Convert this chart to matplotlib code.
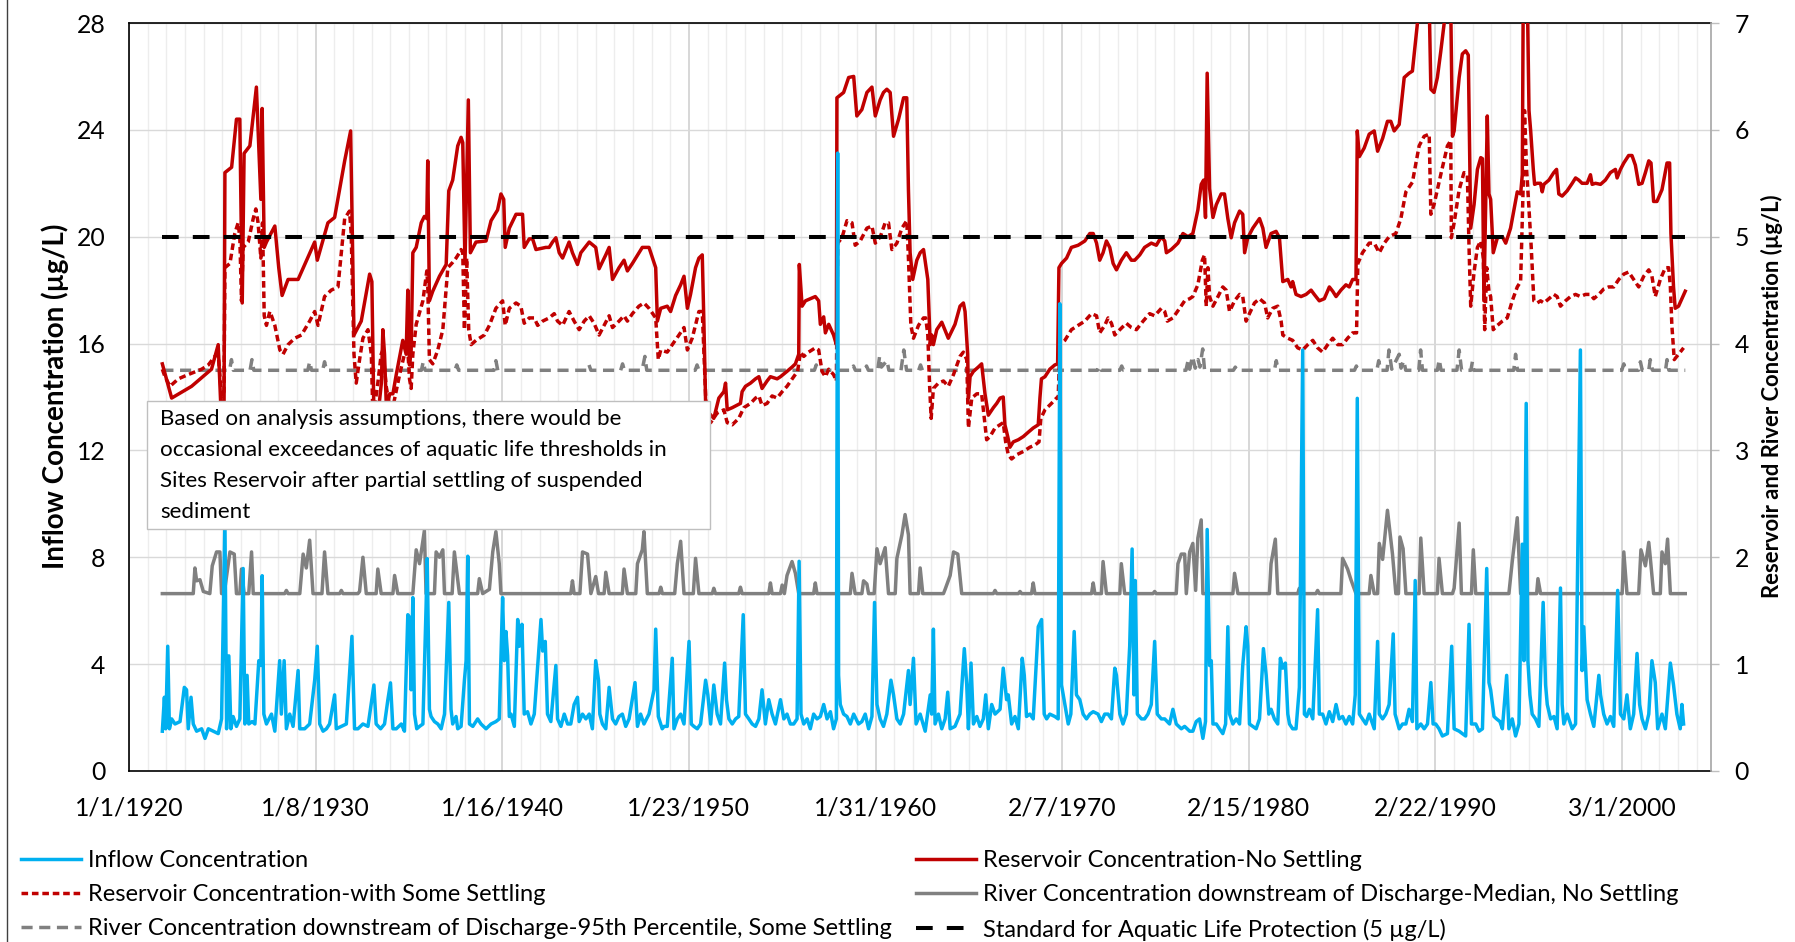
import datetime as dt
import numpy as np
import matplotlib
matplotlib.use("Agg")
import matplotlib.pyplot as plt
import matplotlib.dates as mdates
from matplotlib.lines import Line2D
from matplotlib.patches import Rectangle
from matplotlib.ticker import FixedLocator, FuncFormatter

plt.rcParams['font.family'] = ['Lato', 'DejaVu Sans']

# ---- data: (decimal year, value) ----
# inflow concentration, left axis (ug/L)
inflow = [
    (1921.79, 1.49), (1921.90, 2.76), (1921.97, 1.58), (1922.08, 4.67), (1922.17, 1.58), (1922.29, 1.95),
    (1922.47, 1.76), (1922.74, 1.85), (1922.97, 3.13), (1923.09, 3.04), (1923.18, 1.58), (1923.33, 2.76),
    (1923.45, 1.76), (1923.63, 1.49), (1923.90, 1.58), (1924.08, 1.22), (1924.26, 1.58), (1924.52, 1.49),
    (1924.79, 1.40), (1924.97, 1.95), (1925.15, 9.40), (1925.24, 1.58), (1925.36, 4.31), (1925.47, 1.58),
    (1925.59, 2.04), (1925.77, 1.67), (1925.95, 1.95), (1926.13, 7.58), (1926.22, 1.76), (1926.34, 3.58),
    (1926.43, 1.76), (1926.61, 1.85), (1926.76, 1.76), (1926.97, 4.13), (1927.08, 3.95), (1927.15, 7.31),
    (1927.24, 2.13), (1927.38, 1.76), (1927.65, 2.13), (1927.83, 1.49), (1928.09, 4.13), (1928.18, 2.13),
    (1928.33, 4.13), (1928.45, 1.58), (1928.63, 2.13), (1928.81, 1.67), (1929.08, 3.76), (1929.17, 1.58),
    (1929.43, 1.58), (1929.70, 1.76), (1929.97, 3.40), (1930.11, 4.67), (1930.24, 1.76), (1930.42, 1.49),
    (1930.60, 1.58), (1930.77, 1.76), (1931.04, 2.85), (1931.13, 1.58), (1931.40, 1.67), (1931.67, 1.76),
    (1931.97, 5.04), (1932.11, 1.58), (1932.29, 1.58), (1932.56, 1.76), (1932.83, 1.67), (1933.04, 2.67),
    (1933.15, 3.22), (1933.27, 1.76), (1933.51, 1.58), (1933.72, 1.76), (1933.90, 2.67), (1934.04, 3.30),
    (1934.17, 1.58), (1934.35, 1.58), (1934.62, 1.76), (1934.79, 1.49), (1934.97, 5.85), (1935.06, 5.76),
    (1935.15, 3.04), (1935.24, 6.49), (1935.33, 2.13), (1935.45, 1.58), (1935.60, 1.67), (1935.78, 1.76),
    (1935.95, 6.13), (1936.01, 7.95), (1936.13, 2.31), (1936.22, 2.04), (1936.40, 1.85), (1936.58, 1.76),
    (1936.76, 1.58), (1936.94, 2.13), (1937.17, 6.31), (1937.29, 2.31), (1937.38, 1.76), (1937.56, 2.04),
    (1937.65, 1.58), (1937.83, 1.67), (1938.01, 3.40), (1938.10, 4.13), (1938.19, 8.04), (1938.28, 1.76),
    (1938.46, 1.67), (1938.72, 1.95), (1938.90, 1.76), (1939.17, 1.58), (1939.44, 1.76), (1939.70, 1.85),
    (1939.88, 1.95), (1940.06, 6.49), (1940.15, 4.13), (1940.24, 5.22), (1940.33, 4.31), (1940.42, 2.04),
    (1940.51, 2.13), (1940.69, 1.67), (1940.87, 5.67), (1940.96, 4.67), (1941.10, 5.49), (1941.22, 2.13),
    (1941.40, 2.22), (1941.58, 1.76), (1941.76, 2.13), (1942.12, 5.67), (1942.21, 4.49), (1942.35, 4.85),
    (1942.47, 2.13), (1942.65, 1.85), (1942.92, 3.95), (1943.01, 1.95), (1943.19, 1.67), (1943.37, 2.13),
    (1943.55, 1.76), (1943.72, 1.76), (1943.90, 2.49), (1944.08, 2.76), (1944.17, 1.85), (1944.35, 2.13),
    (1944.53, 1.95), (1944.71, 2.13), (1944.88, 1.58), (1945.06, 4.13), (1945.21, 3.40), (1945.28, 2.13),
    (1945.42, 1.76), (1945.60, 1.58), (1945.78, 3.13), (1945.96, 1.95), (1946.13, 1.76), (1946.31, 2.04),
    (1946.49, 2.13), (1946.67, 1.67), (1946.85, 1.95), (1947.17, 3.31), (1947.30, 1.67), (1947.47, 2.13),
    (1947.65, 1.76), (1947.92, 2.13), (1948.19, 3.04), (1948.28, 5.31), (1948.42, 2.04), (1948.63, 1.58),
    (1948.73, 1.67), (1948.90, 1.67), (1949.17, 4.22), (1949.26, 1.58), (1949.44, 1.95), (1949.62, 2.13),
    (1949.80, 1.76), (1950.07, 4.85), (1950.19, 1.76), (1950.33, 1.67), (1950.51, 1.58), (1950.69, 1.76),
    (1950.96, 3.40), (1951.08, 2.85), (1951.23, 1.76), (1951.40, 3.22), (1951.58, 2.13), (1951.76, 1.76),
    (1951.98, 4.04), (1952.08, 2.67), (1952.21, 1.95), (1952.39, 1.76), (1952.57, 1.95), (1952.74, 2.04),
    (1952.98, 5.85), (1953.10, 2.13), (1953.28, 1.95), (1953.46, 1.76), (1953.64, 1.67), (1953.82, 1.95),
    (1953.99, 3.04), (1954.17, 1.76), (1954.35, 2.67), (1954.53, 2.13), (1954.71, 1.76), (1954.98, 2.67),
    (1955.16, 1.95), (1955.33, 2.13), (1955.51, 1.76), (1955.69, 1.76), (1955.87, 1.95), (1955.98, 7.85),
    (1956.08, 2.13), (1956.23, 1.76), (1956.41, 1.95), (1956.58, 1.58), (1956.76, 2.13), (1956.94, 1.95),
    (1957.12, 2.04), (1957.30, 2.49), (1957.48, 1.95), (1957.66, 2.22), (1957.83, 1.58), (1957.98, 1.95),
    (1958.05, 23.13), (1958.10, 3.58), (1958.19, 2.49), (1958.37, 2.13), (1958.55, 2.04), (1958.73, 1.76),
    (1958.91, 2.13), (1959.17, 1.76), (1959.35, 1.85), (1959.53, 2.13), (1959.71, 1.58), (1959.89, 2.04),
    (1960.03, 6.31), (1960.16, 2.49), (1960.33, 1.95), (1960.51, 1.67), (1960.69, 2.13), (1960.91, 3.40),
    (1961.05, 2.85), (1961.23, 1.95), (1961.41, 1.76), (1961.59, 2.13), (1961.85, 3.76), (1961.94, 2.49),
    (1962.12, 4.22), (1962.26, 1.76), (1962.48, 2.13), (1962.75, 1.49), (1963.02, 2.85), (1963.10, 2.13),
    (1963.19, 5.31), (1963.28, 1.76), (1963.46, 2.13), (1963.64, 1.58), (1963.82, 1.95), (1963.96, 2.95),
    (1964.09, 1.58), (1964.35, 1.67), (1964.62, 2.13), (1964.85, 4.58), (1964.98, 3.22), (1965.07, 1.58),
    (1965.21, 4.04), (1965.34, 1.76), (1965.52, 2.04), (1965.69, 1.67), (1965.87, 1.95), (1966.00, 2.85),
    (1966.14, 1.58), (1966.32, 2.49), (1966.50, 2.13), (1966.77, 2.31), (1966.94, 3.85), (1967.12, 2.67),
    (1967.21, 2.85), (1967.39, 1.76), (1967.57, 2.04), (1967.75, 1.58), (1967.96, 4.22), (1968.07, 3.58),
    (1968.19, 2.04), (1968.37, 2.13), (1968.55, 1.95), (1968.82, 5.40), (1969.00, 5.67), (1969.14, 2.13),
    (1969.27, 1.95), (1969.44, 2.13), (1969.71, 2.04), (1969.89, 1.95), (1969.98, 17.49), (1970.07, 3.22),
    (1970.25, 2.49), (1970.43, 1.76), (1970.57, 2.13), (1970.75, 5.22), (1970.87, 2.85), (1971.05, 2.67),
    (1971.23, 2.13), (1971.41, 1.95), (1971.59, 2.13), (1971.77, 2.22), (1972.03, 2.13), (1972.21, 1.85),
    (1972.39, 2.13), (1972.57, 2.13), (1972.75, 1.95), (1972.93, 3.85), (1973.02, 3.58), (1973.20, 2.13),
    (1973.37, 1.76), (1973.55, 2.13), (1973.73, 4.67), (1973.86, 8.31), (1973.96, 2.85), (1974.03, 7.13),
    (1974.14, 2.13), (1974.36, 1.95), (1974.53, 1.95), (1974.71, 2.13), (1974.89, 2.49), (1975.07, 4.85),
    (1975.21, 2.13), (1975.43, 1.95), (1975.61, 1.95), (1975.87, 1.76), (1976.05, 2.31), (1976.23, 1.76),
    (1976.50, 1.58), (1976.68, 1.67), (1976.95, 1.49), (1977.12, 1.49), (1977.30, 1.85), (1977.48, 1.95),
    (1977.66, 1.22), (1977.80, 1.85), (1977.89, 9.04), (1978.02, 3.95), (1978.11, 4.13), (1978.20, 1.76),
    (1978.38, 1.76), (1978.55, 1.58), (1978.73, 1.40), (1978.88, 1.76), (1979.00, 5.40), (1979.09, 2.13),
    (1979.27, 1.76), (1979.45, 1.95), (1979.63, 1.76), (1979.80, 3.95), (1979.98, 5.40), (1980.07, 4.67),
    (1980.16, 1.76), (1980.34, 1.67), (1980.52, 1.58), (1980.70, 1.95), (1980.91, 4.58), (1981.06, 3.58),
    (1981.20, 2.13), (1981.32, 2.31), (1981.50, 1.95), (1981.68, 1.76), (1981.82, 4.22), (1981.95, 3.85),
    (1982.09, 4.04), (1982.22, 2.13), (1982.31, 1.76), (1982.48, 1.58), (1982.66, 1.58), (1982.84, 3.13),
    (1983.02, 15.76), (1983.11, 2.13), (1983.23, 2.04), (1983.38, 2.31), (1983.56, 1.95), (1983.82, 6.04),
    (1983.91, 2.13), (1984.09, 2.13), (1984.27, 1.76), (1984.45, 2.22), (1984.63, 1.85), (1984.81, 2.49),
    (1984.98, 1.95), (1985.16, 2.04), (1985.34, 1.76), (1985.52, 2.04), (1985.70, 1.76), (1985.84, 2.85),
    (1985.95, 13.95), (1986.06, 2.13), (1986.23, 1.95), (1986.41, 1.76), (1986.59, 2.13), (1986.86, 1.58),
    (1987.04, 4.85), (1987.13, 2.13), (1987.31, 1.95), (1987.48, 2.13), (1987.66, 2.49), (1987.88, 5.13),
    (1987.98, 2.13), (1988.20, 1.58), (1988.38, 1.76), (1988.56, 1.76), (1988.73, 2.31), (1988.91, 1.85),
    (1989.06, 7.13), (1989.15, 1.58), (1989.36, 1.76), (1989.54, 1.58), (1989.72, 1.76), (1989.90, 3.31),
    (1990.02, 1.76), (1990.16, 1.76), (1990.34, 1.58), (1990.52, 1.31), (1990.79, 1.40), (1991.02, 4.67),
    (1991.15, 1.58), (1991.42, 1.49), (1991.59, 1.40), (1991.77, 1.31), (1991.95, 5.49), (1992.08, 1.76),
    (1992.31, 1.76), (1992.49, 1.49), (1992.67, 1.58), (1992.90, 7.58), (1993.02, 3.31), (1993.11, 3.04),
    (1993.29, 2.04), (1993.43, 1.95), (1993.61, 1.85), (1993.74, 1.58), (1993.97, 3.58), (1994.09, 1.58),
    (1994.27, 1.95), (1994.45, 1.31), (1994.63, 1.76), (1994.81, 8.49), (1994.90, 4.13), (1995.02, 13.76),
    (1995.11, 4.13), (1995.22, 2.85), (1995.34, 2.13), (1995.52, 1.95), (1995.70, 1.67), (1995.93, 6.31),
    (1996.06, 3.22), (1996.15, 2.49), (1996.33, 1.95), (1996.51, 2.04), (1996.68, 1.58), (1996.86, 6.85),
    (1996.95, 2.49), (1997.04, 1.76), (1997.22, 2.13), (1997.49, 1.58), (1997.67, 1.76), (1997.93, 15.76),
    (1998.02, 3.76), (1998.11, 5.40), (1998.29, 2.67), (1998.47, 2.13), (1998.65, 1.67), (1998.92, 3.58),
    (1999.01, 2.85), (1999.18, 2.13), (1999.36, 1.76), (1999.54, 2.04), (1999.72, 1.67), (1999.93, 6.76),
    (2000.08, 2.13), (2000.26, 1.95), (2000.43, 2.85), (2000.61, 1.58), (2000.79, 2.13), (2000.97, 4.40),
    (2001.11, 2.49), (2001.24, 1.95), (2001.42, 1.58), (2001.60, 2.13), (2001.77, 4.13), (2001.95, 3.31),
    (2002.08, 1.58), (2002.31, 2.13), (2002.49, 1.58), (2002.76, 4.04), (2002.93, 3.22), (2003.11, 2.13),
    (2003.29, 1.58), (2003.38, 2.49), (2003.47, 1.76),
]

# reservoir concentration, no settling, right axis (ug/L)
res_no_settle = [
    (1921.79, 3.81), (1922.29, 3.49), (1923.36, 3.60), (1924.43, 3.76), (1924.79, 3.99), (1924.97, 3.25),
    (1925.10, 3.25), (1925.15, 5.60), (1925.51, 5.65), (1925.77, 6.10), (1925.95, 6.10), (1926.08, 4.38),
    (1926.18, 5.78), (1926.49, 5.85), (1926.84, 6.40), (1927.08, 5.35), (1927.15, 6.20), (1927.26, 4.90),
    (1927.38, 4.95), (1927.83, 5.10), (1928.04, 4.71), (1928.22, 4.45), (1928.54, 4.60), (1929.08, 4.60),
    (1929.97, 4.95), (1930.11, 4.78), (1930.68, 5.13), (1931.04, 5.18), (1931.58, 5.71), (1931.90, 5.99),
    (1932.08, 4.08), (1932.47, 4.21), (1932.92, 4.65), (1933.04, 4.58), (1933.15, 3.33), (1933.40, 3.38),
    (1933.55, 3.63), (1933.63, 4.13), (1933.72, 3.90), (1933.82, 3.40), (1934.00, 3.53), (1934.17, 3.53),
    (1934.35, 3.71), (1934.70, 4.03), (1934.88, 3.90), (1934.97, 4.50), (1935.06, 3.80), (1935.15, 3.94),
    (1935.24, 4.85), (1935.42, 4.90), (1935.69, 5.13), (1935.86, 5.19), (1935.99, 5.17), (1936.04, 5.71),
    (1936.13, 4.40), (1936.31, 4.49), (1936.67, 4.63), (1937.03, 4.74), (1937.17, 5.43), (1937.38, 5.53),
    (1937.65, 5.85), (1937.83, 5.93), (1937.92, 5.88), (1938.04, 4.75), (1938.22, 6.28), (1938.33, 4.85),
    (1938.63, 4.95), (1939.17, 4.96), (1939.44, 5.15), (1939.79, 5.25), (1939.97, 5.40), (1940.12, 5.35),
    (1940.20, 4.90), (1940.42, 5.08), (1940.78, 5.21), (1941.13, 5.21), (1941.22, 4.90), (1941.49, 4.98),
    (1941.67, 4.98), (1941.85, 4.88), (1942.38, 4.90), (1942.56, 4.90), (1942.74, 4.95), (1942.92, 4.99),
    (1943.10, 4.85), (1943.28, 4.80), (1943.63, 4.95), (1943.81, 4.85), (1944.08, 4.74), (1944.26, 4.85),
    (1944.71, 4.95), (1945.06, 4.90), (1945.24, 4.70), (1945.60, 4.83), (1945.78, 4.90), (1945.96, 4.60),
    (1946.31, 4.71), (1946.58, 4.78), (1946.76, 4.68), (1947.03, 4.75), (1947.56, 4.90), (1947.92, 4.90),
    (1948.28, 4.71), (1948.37, 4.21), (1948.55, 4.33), (1948.90, 4.35), (1949.08, 4.30), (1949.35, 4.45),
    (1949.62, 4.55), (1949.80, 4.63), (1949.98, 4.33), (1950.15, 4.46), (1950.42, 4.71), (1950.60, 4.80),
    (1950.78, 4.83), (1950.87, 4.18), (1950.96, 3.44), (1951.14, 3.35), (1951.40, 3.30), (1951.67, 3.49),
    (1951.94, 3.55), (1952.03, 3.63), (1952.12, 3.38), (1952.39, 3.40), (1952.83, 3.44), (1952.92, 3.55),
    (1953.10, 3.60), (1953.37, 3.63), (1953.64, 3.67), (1953.82, 3.69), (1953.99, 3.58), (1954.26, 3.65),
    (1954.44, 3.69), (1954.80, 3.67), (1954.98, 3.69), (1955.33, 3.74), (1955.60, 3.78), (1955.78, 3.81),
    (1955.96, 3.90), (1955.99, 4.74), (1956.14, 4.35), (1956.32, 4.40), (1956.58, 4.42), (1956.85, 4.44),
    (1957.03, 4.40), (1957.12, 4.18), (1957.30, 4.25), (1957.39, 4.10), (1957.57, 4.18), (1957.83, 4.08),
    (1957.98, 3.99), (1958.01, 6.30), (1958.37, 6.35), (1958.64, 6.49), (1958.91, 6.50), (1959.08, 6.13),
    (1959.35, 6.19), (1959.62, 6.35), (1959.89, 6.40), (1960.07, 6.13), (1960.33, 6.28), (1960.51, 6.35),
    (1960.69, 6.38), (1960.87, 6.35), (1961.05, 5.94), (1961.32, 6.10), (1961.59, 6.30), (1961.76, 6.30),
    (1961.85, 5.44), (1961.94, 4.85), (1962.08, 4.60), (1962.30, 4.78), (1962.48, 4.85), (1962.66, 4.88),
    (1962.89, 4.60), (1963.02, 3.99), (1963.10, 4.08), (1963.19, 3.99), (1963.37, 4.13), (1963.64, 4.20),
    (1963.99, 4.05), (1964.35, 4.18), (1964.62, 4.35), (1964.80, 4.38), (1964.89, 4.30), (1965.03, 3.90),
    (1965.07, 3.49), (1965.16, 3.69), (1965.34, 3.74), (1965.60, 3.78), (1965.78, 3.81), (1965.96, 3.53),
    (1966.14, 3.33), (1966.41, 3.40), (1966.59, 3.44), (1966.77, 3.49), (1966.94, 3.50), (1967.03, 3.24),
    (1967.18, 3.13), (1967.30, 3.03), (1967.48, 3.08), (1967.75, 3.10), (1968.02, 3.13), (1968.28, 3.17),
    (1968.55, 3.21), (1968.82, 3.24), (1968.91, 3.49), (1968.99, 3.67), (1969.18, 3.69), (1969.44, 3.76),
    (1969.71, 3.80), (1969.86, 3.81), (1969.93, 4.71), (1970.07, 4.75), (1970.34, 4.80), (1970.60, 4.90),
    (1970.96, 4.92), (1971.32, 4.96), (1971.59, 5.03), (1971.77, 5.03), (1971.95, 4.94), (1972.12, 4.78),
    (1972.30, 4.85), (1972.48, 4.96), (1972.66, 4.90), (1972.84, 4.75), (1973.02, 4.69), (1973.28, 4.78),
    (1973.55, 4.85), (1973.82, 4.78), (1974.00, 4.78), (1974.27, 4.83), (1974.53, 4.90), (1974.89, 4.94),
    (1975.16, 4.92), (1975.43, 5.00), (1975.61, 4.96), (1975.70, 4.85), (1975.96, 4.88), (1976.32, 4.94),
    (1976.59, 5.03), (1976.86, 5.00), (1977.12, 5.03), (1977.39, 5.25), (1977.57, 5.49), (1977.70, 5.53),
    (1977.80, 5.18), (1977.89, 6.53), (1978.02, 5.45), (1978.20, 5.18), (1978.38, 5.30), (1978.64, 5.40),
    (1978.82, 5.40), (1979.00, 5.17), (1979.18, 4.99), (1979.36, 5.13), (1979.63, 5.24), (1979.80, 5.21),
    (1979.90, 4.85), (1980.07, 4.99), (1980.34, 5.08), (1980.70, 5.17), (1980.88, 5.08), (1981.05, 4.90),
    (1981.32, 5.03), (1981.59, 5.05), (1981.77, 4.99), (1981.95, 4.58), (1982.22, 4.60), (1982.39, 4.53),
    (1982.48, 4.58), (1982.66, 4.46), (1982.93, 4.44), (1983.20, 4.46), (1983.47, 4.50), (1983.64, 4.46),
    (1983.91, 4.40), (1984.18, 4.42), (1984.45, 4.53), (1984.63, 4.49), (1984.81, 4.44), (1985.07, 4.50),
    (1985.34, 4.55), (1985.52, 4.53), (1985.70, 4.60), (1985.88, 4.60), (1985.95, 5.99), (1986.06, 5.75),
    (1986.32, 5.83), (1986.59, 5.96), (1986.86, 5.99), (1987.04, 5.80), (1987.31, 5.92), (1987.57, 6.08),
    (1987.75, 6.08), (1987.93, 5.99), (1988.20, 6.05), (1988.47, 6.49), (1988.73, 6.53), (1988.91, 6.55),
    (1989.09, 6.85), (1989.27, 7.15), (1989.54, 7.25), (1989.81, 7.20), (1989.90, 6.38), (1990.07, 6.35),
    (1990.25, 6.49), (1990.43, 6.73), (1990.61, 6.99), (1990.79, 7.25), (1990.97, 7.13), (1991.06, 5.94),
    (1991.15, 5.99), (1991.42, 6.49), (1991.59, 6.71), (1991.77, 6.74), (1991.91, 6.70), (1992.04, 5.08),
    (1992.22, 5.30), (1992.40, 5.63), (1992.58, 5.74), (1992.67, 5.73), (1992.75, 4.40), (1992.84, 5.25),
    (1992.93, 6.13), (1993.02, 5.40), (1993.11, 5.35), (1993.25, 4.85), (1993.47, 4.99), (1993.74, 5.00),
    (1993.92, 4.94), (1994.18, 5.08), (1994.36, 5.25), (1994.54, 5.42), (1994.72, 5.40), (1994.81, 5.58),
    (1994.86, 7.25), (1995.08, 7.25), (1995.17, 6.18), (1995.26, 5.99), (1995.40, 5.63), (1995.47, 5.49),
    (1995.61, 5.50), (1995.79, 5.50), (1995.88, 5.42), (1995.97, 5.49), (1996.24, 5.53), (1996.50, 5.60),
    (1996.65, 5.63), (1996.77, 5.40), (1996.95, 5.38), (1997.22, 5.43), (1997.49, 5.50), (1997.67, 5.55),
    (1997.84, 5.53), (1998.02, 5.50), (1998.29, 5.50), (1998.47, 5.58), (1998.56, 5.49), (1998.74, 5.50),
    (1999.01, 5.49), (1999.27, 5.53), (1999.54, 5.60), (1999.81, 5.63), (1999.90, 5.55), (2000.08, 5.63),
    (2000.26, 5.69), (2000.52, 5.76), (2000.70, 5.76), (2000.88, 5.67), (2001.06, 5.49), (2001.24, 5.50),
    (2001.42, 5.60), (2001.60, 5.71), (2001.72, 5.69), (2001.86, 5.33), (2002.04, 5.33), (2002.31, 5.44),
    (2002.58, 5.69), (2002.72, 5.69), (2002.79, 5.03), (2002.93, 4.53), (2003.02, 4.33), (2003.20, 4.35),
    (2003.38, 4.42), (2003.56, 4.49),
]

# reservoir concentration with some settling, right axis
res_some_settle = [
    (1921.79, 3.76), (1921.93, 3.69), (1922.20, 3.60), (1922.65, 3.67), (1923.18, 3.71), (1923.90, 3.76),
    (1924.26, 3.80), (1924.61, 3.88), (1924.79, 3.90), (1924.97, 3.50), (1925.10, 3.55), (1925.15, 4.71),
    (1925.42, 4.75), (1925.68, 5.03), (1925.86, 5.13), (1925.95, 4.99), (1926.04, 4.40), (1926.13, 4.90),
    (1926.40, 4.95), (1926.67, 5.17), (1926.81, 5.26), (1926.93, 5.13), (1927.08, 4.80), (1927.17, 5.13),
    (1927.26, 4.26), (1927.38, 4.17), (1927.56, 4.30), (1927.65, 4.26), (1927.83, 4.17), (1928.10, 3.94),
    (1928.27, 3.90), (1928.54, 3.99), (1928.90, 4.05), (1929.26, 4.08), (1929.70, 4.21), (1929.97, 4.30),
    (1930.15, 4.17), (1930.50, 4.44), (1930.86, 4.50), (1931.22, 4.53), (1931.58, 5.17), (1931.84, 5.24),
    (1931.93, 5.03), (1932.08, 3.90), (1932.20, 3.63), (1932.38, 3.85), (1932.56, 4.05), (1932.83, 4.13),
    (1933.01, 3.90), (1933.10, 3.30), (1933.36, 3.63), (1933.54, 3.90), (1933.63, 3.94), (1933.81, 3.60),
    (1934.08, 3.33), (1934.53, 3.71), (1934.79, 3.90), (1934.97, 3.94), (1935.06, 3.67), (1935.15, 3.58),
    (1935.24, 3.90), (1935.42, 4.18), (1935.78, 4.40), (1935.99, 4.68), (1936.04, 4.55), (1936.13, 3.85),
    (1936.31, 3.81), (1936.58, 3.94), (1936.85, 4.13), (1937.12, 4.71), (1937.38, 4.76), (1937.56, 4.80),
    (1937.74, 4.85), (1937.83, 4.88), (1937.92, 4.85), (1938.01, 4.13), (1938.13, 4.80), (1938.24, 4.13),
    (1938.37, 3.99), (1938.63, 4.03), (1939.08, 4.08), (1939.35, 4.17), (1939.70, 4.33), (1940.06, 4.40),
    (1940.20, 4.17), (1940.42, 4.33), (1940.78, 4.38), (1941.04, 4.35), (1941.22, 4.19), (1941.49, 4.24),
    (1941.76, 4.24), (1941.94, 4.17), (1942.21, 4.21), (1942.56, 4.24), (1942.83, 4.28), (1943.01, 4.21),
    (1943.28, 4.17), (1943.63, 4.30), (1943.90, 4.21), (1944.17, 4.13), (1944.44, 4.21), (1944.71, 4.26),
    (1944.97, 4.19), (1945.24, 4.08), (1945.51, 4.17), (1945.78, 4.26), (1945.96, 4.15), (1946.31, 4.21),
    (1946.58, 4.26), (1946.76, 4.21), (1947.03, 4.28), (1947.38, 4.35), (1947.65, 4.38), (1947.92, 4.33),
    (1948.28, 4.24), (1948.42, 3.85), (1948.55, 3.94), (1948.90, 3.92), (1949.17, 3.99), (1949.53, 4.08),
    (1949.80, 4.15), (1949.98, 3.94), (1950.24, 4.05), (1950.60, 4.30), (1950.78, 4.30), (1950.87, 3.90),
    (1951.01, 3.30), (1951.23, 3.26), (1951.58, 3.35), (1951.94, 3.38), (1952.12, 3.26), (1952.39, 3.24),
    (1952.74, 3.30), (1953.01, 3.40), (1953.37, 3.44), (1953.64, 3.49), (1953.82, 3.51), (1953.99, 3.42),
    (1954.26, 3.44), (1954.53, 3.51), (1954.80, 3.49), (1955.07, 3.55), (1955.33, 3.60), (1955.69, 3.69),
    (1955.90, 3.74), (1956.05, 3.92), (1956.23, 3.88), (1956.49, 3.92), (1956.85, 3.96), (1957.03, 3.94),
    (1957.21, 3.74), (1957.39, 3.69), (1957.57, 3.76), (1957.83, 3.71), (1957.98, 3.65), (1958.05, 4.94),
    (1958.28, 4.99), (1958.55, 5.15), (1958.82, 5.13), (1958.99, 4.92), (1959.26, 4.96), (1959.62, 5.08),
    (1959.89, 5.10), (1960.07, 4.94), (1960.34, 5.00), (1960.60, 5.13), (1960.78, 5.13), (1960.96, 4.88),
    (1961.23, 4.94), (1961.50, 5.08), (1961.76, 5.15), (1961.85, 4.80), (1961.98, 4.17), (1962.12, 4.05),
    (1962.39, 4.17), (1962.66, 4.24), (1962.78, 4.24), (1962.89, 4.08), (1962.98, 3.63), (1963.07, 3.30),
    (1963.19, 3.58), (1963.46, 3.63), (1963.73, 3.65), (1963.99, 3.60), (1964.27, 3.71), (1964.62, 3.88),
    (1964.80, 3.92), (1964.98, 3.85), (1965.07, 3.21), (1965.25, 3.49), (1965.52, 3.53), (1965.78, 3.53),
    (1966.05, 3.10), (1966.23, 3.13), (1966.50, 3.21), (1966.77, 3.24), (1966.94, 3.26), (1967.07, 3.08),
    (1967.21, 2.96), (1967.39, 2.92), (1967.66, 2.96), (1968.02, 2.99), (1968.37, 3.03), (1968.64, 3.05),
    (1968.86, 3.08), (1968.96, 3.30), (1969.18, 3.38), (1969.53, 3.44), (1969.80, 3.49), (1969.89, 3.49),
    (1969.98, 3.99), (1970.25, 4.03), (1970.60, 4.13), (1970.96, 4.17), (1971.32, 4.21), (1971.68, 4.28),
    (1971.95, 4.26), (1972.12, 4.10), (1972.39, 4.17), (1972.57, 4.24), (1972.75, 4.19), (1972.93, 4.08),
    (1973.20, 4.13), (1973.55, 4.19), (1973.82, 4.15), (1974.09, 4.13), (1974.45, 4.21), (1974.80, 4.28),
    (1975.07, 4.26), (1975.43, 4.33), (1975.61, 4.30), (1975.75, 4.21), (1976.05, 4.24), (1976.41, 4.33),
    (1976.68, 4.40), (1976.95, 4.42), (1977.12, 4.44), (1977.39, 4.55), (1977.63, 4.78), (1977.75, 4.83),
    (1977.84, 4.35), (1977.93, 4.71), (1978.02, 4.44), (1978.20, 4.35), (1978.47, 4.44), (1978.73, 4.53),
    (1978.91, 4.50), (1979.09, 4.30), (1979.36, 4.40), (1979.63, 4.46), (1979.80, 4.44), (1979.98, 4.21),
    (1980.16, 4.28), (1980.43, 4.38), (1980.70, 4.42), (1980.97, 4.38), (1981.14, 4.24), (1981.41, 4.33),
    (1981.68, 4.35), (1981.86, 4.21), (1981.95, 4.08), (1982.22, 4.05), (1982.48, 4.03), (1982.75, 3.96),
    (1983.02, 3.94), (1983.29, 3.99), (1983.56, 4.03), (1983.82, 3.96), (1984.09, 3.92), (1984.36, 3.99),
    (1984.63, 4.05), (1984.90, 3.99), (1985.16, 3.99), (1985.43, 4.05), (1985.70, 4.10), (1985.91, 4.10),
    (1985.98, 4.75), (1986.23, 4.85), (1986.59, 4.94), (1986.86, 4.94), (1987.13, 4.85), (1987.40, 4.94),
    (1987.66, 5.00), (1988.02, 5.03), (1988.29, 5.17), (1988.56, 5.42), (1988.91, 5.51), (1989.27, 5.85),
    (1989.54, 5.94), (1989.81, 5.96), (1989.90, 5.21), (1990.07, 5.30), (1990.43, 5.58), (1990.79, 5.85),
    (1990.97, 5.90), (1991.00, 4.99), (1991.15, 5.13), (1991.42, 5.44), (1991.68, 5.60), (1991.86, 5.58),
    (1991.95, 4.90), (1992.04, 4.35), (1992.22, 4.67), (1992.40, 4.90), (1992.58, 4.96), (1992.72, 4.80),
    (1992.79, 4.13), (1992.90, 4.71), (1993.02, 4.49), (1993.11, 4.44), (1993.25, 4.13), (1993.47, 4.17),
    (1993.74, 4.21), (1994.00, 4.24), (1994.27, 4.40), (1994.54, 4.53), (1994.72, 4.58), (1994.86, 5.49),
    (1994.93, 6.18), (1995.04, 5.63), (1995.17, 5.26), (1995.29, 4.90), (1995.43, 4.40), (1995.61, 4.38),
    (1995.79, 4.40), (1995.97, 4.38), (1996.24, 4.42), (1996.50, 4.46), (1996.68, 4.44), (1996.86, 4.35),
    (1997.13, 4.40), (1997.40, 4.44), (1997.67, 4.46), (1997.93, 4.44), (1998.20, 4.46), (1998.47, 4.46),
    (1998.65, 4.42), (1998.92, 4.46), (1999.18, 4.51), (1999.45, 4.53), (1999.72, 4.53), (1999.99, 4.60),
    (2000.26, 4.65), (2000.52, 4.67), (2000.79, 4.60), (2001.06, 4.53), (2001.33, 4.63), (2001.60, 4.69),
    (2001.77, 4.63), (2001.95, 4.44), (2002.22, 4.60), (2002.49, 4.71), (2002.67, 4.71), (2002.76, 4.53),
    (2002.84, 4.17), (2002.97, 3.85), (2003.11, 3.88), (2003.29, 3.92), (2003.47, 3.96),
]

# river downstream of discharge, median, no settling, right axis
river_median = [
    (1921.79, 1.66), (1923.45, 1.66), (1923.54, 1.90), (1923.63, 1.78), (1923.81, 1.79), (1923.99, 1.68),
    (1924.34, 1.66), (1924.47, 1.92), (1924.70, 2.05), (1924.88, 2.05), (1924.97, 1.66), (1925.15, 1.71),
    (1925.42, 2.05), (1925.65, 2.03), (1925.77, 1.66), (1925.95, 1.66), (1926.04, 1.89), (1926.18, 1.66),
    (1926.43, 1.66), (1926.58, 2.05), (1926.67, 1.66), (1928.36, 1.66), (1928.45, 1.69), (1928.54, 1.66),
    (1929.17, 1.66), (1929.35, 2.03), (1929.52, 1.90), (1929.70, 2.16), (1929.88, 1.66), (1930.36, 1.66),
    (1930.50, 2.05), (1930.68, 1.66), (1931.31, 1.66), (1931.40, 1.69), (1931.49, 1.66), (1932.29, 1.66),
    (1932.38, 1.68), (1932.56, 2.00), (1932.74, 1.66), (1933.27, 1.66), (1933.36, 1.89), (1933.54, 1.66),
    (1934.17, 1.66), (1934.26, 1.83), (1934.43, 1.66), (1935.24, 1.66), (1935.42, 2.07), (1935.60, 1.94),
    (1935.86, 2.25), (1935.95, 1.66), (1936.40, 1.66), (1936.49, 2.05), (1936.67, 2.00), (1936.85, 2.07),
    (1936.94, 1.66), (1937.35, 1.66), (1937.47, 2.05), (1937.74, 1.66), (1938.72, 1.66), (1938.81, 1.80),
    (1938.99, 1.66), (1939.35, 1.70), (1939.53, 2.05), (1939.70, 2.24), (1939.88, 1.94), (1939.97, 1.66),
    (1943.72, 1.66), (1943.81, 1.78), (1943.90, 1.66), (1944.21, 1.66), (1944.35, 2.05), (1944.62, 2.03),
    (1944.80, 1.66), (1945.06, 1.82), (1945.21, 1.66), (1945.51, 1.66), (1945.60, 1.86), (1945.78, 1.66),
    (1946.49, 1.66), (1946.58, 1.89), (1946.76, 1.66), (1947.21, 1.66), (1947.30, 1.94), (1947.56, 2.07),
    (1947.65, 2.24), (1947.83, 1.66), (1948.46, 1.66), (1948.55, 1.72), (1948.64, 1.66), (1949.30, 1.66),
    (1949.44, 1.94), (1949.62, 2.15), (1949.80, 1.66), (1950.30, 1.66), (1950.42, 1.99), (1950.60, 1.66),
    (1951.32, 1.66), (1951.40, 1.71), (1951.49, 1.66), (1952.74, 1.66), (1952.83, 1.72), (1952.92, 1.66),
    (1954.35, 1.66), (1954.44, 1.76), (1954.53, 1.66), (1954.98, 1.66), (1955.07, 1.74), (1955.19, 1.66),
    (1955.33, 1.83), (1955.60, 1.96), (1955.78, 1.85), (1955.96, 1.66), (1956.76, 1.66), (1956.85, 1.76),
    (1956.94, 1.66), (1958.73, 1.66), (1958.82, 1.85), (1958.99, 1.66), (1959.35, 1.66), (1959.44, 1.78),
    (1959.62, 1.75), (1959.71, 1.66), (1960.01, 1.66), (1960.16, 2.08), (1960.33, 1.94), (1960.60, 2.09),
    (1960.78, 1.66), (1961.14, 1.66), (1961.23, 1.99), (1961.50, 2.21), (1961.67, 2.40), (1961.85, 2.21),
    (1961.94, 1.66), (1962.39, 1.66), (1962.48, 1.90), (1962.62, 1.66), (1963.73, 1.66), (1963.82, 1.70),
    (1964.09, 1.83), (1964.27, 2.05), (1964.50, 2.03), (1964.71, 1.66), (1966.41, 1.66), (1966.50, 1.69),
    (1966.59, 1.66), (1967.75, 1.66), (1967.84, 1.68), (1967.93, 1.66), (1968.46, 1.66), (1968.55, 1.76),
    (1968.64, 1.66), (1971.68, 1.66), (1971.77, 1.76), (1971.86, 1.66), (1972.21, 1.66), (1972.30, 1.96),
    (1972.48, 1.66), (1973.20, 1.66), (1973.28, 1.94), (1973.46, 1.66), (1974.98, 1.66), (1975.07, 1.68),
    (1975.16, 1.66), (1976.23, 1.66), (1976.32, 1.94), (1976.50, 2.03), (1976.68, 2.03), (1976.77, 1.66),
    (1976.95, 2.05), (1977.12, 2.13), (1977.27, 1.69), (1977.39, 2.18), (1977.57, 2.35), (1977.66, 1.66),
    (1979.27, 1.66), (1979.36, 1.85), (1979.54, 1.66), (1981.23, 1.66), (1981.32, 1.94), (1981.55, 2.17),
    (1981.68, 1.66), (1982.75, 1.66), (1982.84, 1.71), (1982.93, 1.66), (1983.73, 1.66), (1983.82, 1.69),
    (1983.91, 1.66), (1985.07, 1.66), (1985.16, 1.99), (1985.43, 1.89), (1985.61, 1.79), (1985.88, 1.66),
    (1986.59, 1.66), (1986.68, 1.83), (1986.86, 1.66), (1987.04, 1.66), (1987.13, 2.13), (1987.31, 1.98),
    (1987.57, 2.44), (1987.84, 2.03), (1988.02, 1.66), (1988.16, 1.66), (1988.24, 2.19), (1988.41, 2.08),
    (1988.56, 1.66), (1989.27, 1.66), (1989.36, 2.18), (1989.54, 1.66), (1990.25, 1.66), (1990.34, 1.99),
    (1990.52, 1.66), (1991.06, 1.66), (1991.15, 1.71), (1991.42, 2.32), (1991.54, 1.66), (1992.08, 1.66),
    (1992.18, 2.07), (1992.31, 1.66), (1994.09, 1.66), (1994.27, 1.96), (1994.54, 2.37), (1994.72, 1.66),
    (1995.58, 1.66), (1995.65, 1.80), (1995.79, 1.66), (2000.17, 1.66), (2000.26, 2.05), (2000.43, 1.66),
    (2001.06, 1.66), (2001.18, 2.07), (2001.42, 1.92), (2001.60, 2.14), (2001.68, 2.00), (2001.86, 1.66),
    (2002.22, 1.66), (2002.31, 2.05), (2002.49, 1.94), (2002.61, 2.17), (2002.76, 1.66), (2003.56, 1.66),
]

# river downstream of discharge, 95th percentile, some settling, right axis
river_p95 = [
    (1921.79, 3.75), (1925.40, 3.75), (1925.50, 3.85), (1925.60, 3.75), (1926.50, 3.75), (1926.60, 3.85),
    (1926.70, 3.75), (1929.60, 3.75), (1929.70, 3.83), (1929.80, 3.75), (1930.40, 3.75), (1930.50, 3.83),
    (1930.60, 3.75), (1935.70, 3.75), (1935.80, 3.83), (1935.90, 3.75), (1937.50, 3.75), (1937.60, 3.80),
    (1937.70, 3.75), (1939.60, 3.75), (1939.70, 3.84), (1939.80, 3.75), (1944.60, 3.75), (1944.70, 3.80),
    (1944.80, 3.75), (1946.40, 3.75), (1946.50, 3.81), (1946.60, 3.75), (1947.55, 3.75), (1947.70, 3.88),
    (1947.80, 3.75), (1950.40, 3.75), (1950.50, 3.80), (1950.60, 3.75), (1956.80, 3.75), (1956.90, 3.80),
    (1957.00, 3.75), (1958.80, 3.75), (1958.90, 3.79), (1959.00, 3.75), (1959.50, 3.75), (1959.60, 3.79),
    (1959.70, 3.75), (1960.20, 3.75), (1960.30, 3.88), (1960.40, 3.78), (1960.70, 3.84), (1960.80, 3.75),
    (1961.45, 3.75), (1961.60, 3.94), (1961.75, 3.75), (1962.40, 3.75), (1962.50, 3.80), (1962.60, 3.75),
    (1972.00, 3.75), (1972.10, 3.79), (1972.20, 3.75), (1973.20, 3.75), (1973.30, 3.79), (1973.40, 3.75),
    (1976.75, 3.75), (1976.85, 3.83), (1976.95, 3.76), (1977.10, 3.88), (1977.25, 3.77), (1977.40, 3.85),
    (1977.50, 3.78), (1977.65, 3.95), (1977.75, 3.75), (1979.30, 3.75), (1979.40, 3.78), (1979.50, 3.75),
    (1981.50, 3.75), (1981.60, 3.84), (1981.70, 3.75), (1985.80, 3.75), (1985.90, 3.79), (1986.00, 3.75),
    (1987.00, 3.75), (1987.10, 3.84), (1987.20, 3.75), (1987.55, 3.75), (1987.65, 3.94), (1987.80, 3.76),
    (1988.20, 3.90), (1988.30, 3.77), (1988.45, 3.84), (1988.55, 3.75), (1989.25, 3.75), (1989.35, 3.94),
    (1989.45, 3.75), (1990.25, 3.75), (1990.35, 3.85), (1990.45, 3.75), (1991.30, 3.75), (1991.42, 3.94),
    (1991.55, 3.75), (1992.05, 3.75), (1992.13, 3.83), (1992.20, 3.75), (1994.35, 3.75), (1994.45, 3.90),
    (1994.55, 3.75), (2000.15, 3.75), (2000.26, 3.81), (2000.35, 3.75), (2001.05, 3.75), (2001.15, 3.83),
    (2001.25, 3.75), (2001.60, 3.75), (2001.68, 3.85), (2001.80, 3.75), (2002.50, 3.75), (2002.58, 3.85),
    (2002.68, 3.75), (2003.56, 3.75),
]

standard = 5.0  # ug/L, aquatic life protection
left_ticks = [0, 4, 8, 12, 16, 20, 24, 28]
right_ticks = [0, 1, 2, 3, 4, 5, 6, 7]

labels = {
    'inflow': 'Inflow Concentration',
    'res_no': 'Reservoir Concentration-No Settling',
    'res_some': 'Reservoir Concentration-with Some Settling',
    'riv_med': 'River Concentration downstream of Discharge-Median, No Settling',
    'riv_95': 'River Concentration downstream of Discharge-95th Percentile, Some Settling',
    'std': 'Standard for Aquatic Life Protection (5 \u00b5g/L)',
}
note = ("Based on analysis assumptions, there would be\n"
        "occasional exceedances of aquatic life thresholds in\n"
        "Sites Reservoir after partial settling of suspended\n"
        "sediment")

# ---- helpers ----
BASE = mdates.date2num(dt.datetime(1920, 1, 1))


def split(series):
    yrs = np.array([p[0] for p in series])
    vals = np.array([p[1] for p in series])
    return BASE + (yrs - 1920.0) * 365.25, vals


W, H = 1795, 942
FS = 17
BLUE, RED, GREY = '#00B0F0', '#C00000', '#808080'

fig = plt.figure(figsize=(W / 100, H / 100), dpi=100)
ax = fig.add_axes([129 / W, 1 - 771 / H, (1711 - 129) / W, (771 - 23) / H])
ax2 = ax.twinx()
ax3 = ax.twinx()

# styles
st_inflow = dict(color=BLUE, lw=2.5, solid_joinstyle='round')
st_res_no = dict(color=RED, lw=2.5, solid_joinstyle='round')
st_res_some = dict(color=RED, lw=2.5, ls=(0, (1.9, 1.1)))
st_riv_med = dict(color=GREY, lw=2.5)
st_riv_95 = dict(color=GREY, lw=2.5, ls=(0, (3.2, 1.9)))
st_std = dict(color='black', lw=2.9, ls=(0, (4.15, 3.5)))

x, y = split(river_p95)
ax2.plot(x, y, **st_riv_95)
x, y = split(river_median)
ax2.plot(x, y, **st_riv_med)
x, y = split(res_some_settle)
ax2.plot(x, y, **st_res_some)
x, y = split(res_no_settle)
ax2.plot(x, y, **st_res_no)
xs, _ = split(res_no_settle)
ax2.plot([xs[0], xs[-1]], [standard, standard], **st_std)
x, y = split(inflow)
ax3.plot(x, y, **st_inflow)

# x axis
xmax = BASE + 31025
for a in (ax, ax2, ax3):
    a.set_xlim(BASE, xmax)
ax.xaxis.set_major_locator(FixedLocator([BASE + 3660 * k for k in range(9)]))
ax.xaxis.set_minor_locator(FixedLocator([BASE + 366 * k for k in range(85)]))
ax.xaxis.set_major_formatter(FuncFormatter(
    lambda v, p: '{d.month}/{d.day}/{d.year}'.format(d=mdates.num2date(v))))
ax.tick_params(axis='x', which='both', length=0, pad=18, labelsize=17.8)

# y axes
ax.set_ylim(0, 28)
ax3.set_ylim(0, 28)
ax2.set_ylim(0, 7)
ax.set_yticks(left_ticks)
ax2.set_yticks(right_ticks)
ax.tick_params(axis='y', length=0, pad=17, labelsize=17.8)
ax2.tick_params(axis='y', length=6, width=1, color='#bfbfbf', pad=11, labelsize=17.8)
ax3.set_yticks([])
ax3.axis('off')

# grid
ax.grid(True, axis='y', color='#d9d9d9', lw=1.0)
ax.grid(True, axis='x', which='major', color='#d4d4d4', lw=1.3)
ax.grid(True, axis='x', which='minor', color='#ededed', lw=1.0)
ax.set_axisbelow(True)

# spines
for s in ('left', 'bottom', 'top'):
    ax.spines[s].set_color('black')
    ax.spines[s].set_linewidth(1.2)
ax.spines['right'].set_visible(False)
for s in ('left', 'bottom', 'top'):
    ax2.spines[s].set_visible(False)
ax2.spines['right'].set_color('#a6a6a6')
ax2.spines['right'].set_linewidth(1.2)

# axis titles
fig.text(55 / W, 1 - 396 / H, 'Inflow Concentration (\u00b5g/L)', rotation=90,
         rotation_mode='anchor', ha='center', va='center', fontsize=20, fontweight='bold')
fig.text(1772 / W, 1 - 396 / H, 'Reservoir and River Concentration (\u00b5g/L)', rotation=90,
         rotation_mode='anchor', ha='center', va='center', fontsize=15.8, fontweight='bold')

# annotation box
fig.patches.append(Rectangle((146.5 / W, 1 - 529 / H), (710 - 146.5) / W, (529 - 400.7) / H,
                             transform=fig.transFigure, facecolor='white', edgecolor='#bfbfbf',
                             lw=1.0, zorder=5))
fig.text(160 / W, 1 - 465.5 / H, note, ha='left', va='center', fontsize=16.1,
         linespacing=1.69, zorder=6)

# left border of the chart area
fig.add_artist(Line2D([7 / W, 7 / W], [0, 1], transform=fig.transFigure, color='#404040', lw=1.0))

# legends (two columns, Excel row order)
h = {
    'inflow': Line2D([], [], **st_inflow), 'res_no': Line2D([], [], **st_res_no),
    'res_some': Line2D([], [], **st_res_some), 'riv_med': Line2D([], [], **st_riv_med),
    'riv_95': Line2D([], [], **st_riv_95), 'std': Line2D([], [], **st_std),
}
common = dict(loc='upper left', frameon=False, fontsize=FS, handlelength=2.55, handletextpad=0.28,
              labelspacing=0.56, borderpad=0, borderaxespad=0)
keys1 = ['inflow', 'res_some', 'riv_95']
keys2 = ['res_no', 'riv_med', 'std']
fig.legend([h[k] for k in keys1], [labels[k] for k in keys1],
           bbox_to_anchor=(21 / W, 1 - 850 / H), **common)
fig.legend([h[k] for k in keys2], [labels[k] for k in keys2],
           bbox_to_anchor=(916 / W, 1 - 850 / H), **common)

fig.savefig('out.png', dpi=100)
